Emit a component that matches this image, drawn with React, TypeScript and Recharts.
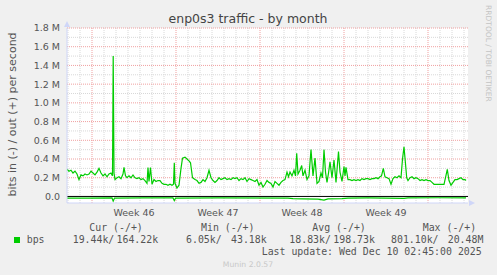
import { LineChart, Line, XAxis, YAxis, CartesianGrid, ReferenceLine, ReferenceDot } from "recharts";

// hours since the first day line, Mbit/s (out = +, in = -)
const outTraffic: [number, number][] = [
  [-2, 0.29], [2, 0.27], [6, 0.28], [10, 0.25], [14, 0.27], [18, 0.24], [22, 0.18], [26, 0.23],
  [30, 0.22], [34, 0.24], [38, 0.23], [42, 0.24], [46, 0.27], [50, 0.25], [54, 0.23], [58, 0.26],
  [62, 0.3], [66, 0.25], [70, 0.22], [74, 0.24], [78, 0.21], [82, 0.24], [86, 0.25], [89, 0.22],
  [90.4, 1.5], [92, 0.25], [94, 0.18], [98, 0.2], [102, 0.21], [106, 0.19], [110, 0.24], [112, 0.31],
  [115, 0.22], [118, 0.2], [122, 0.22], [126, 0.2], [130, 0.23], [134, 0.2], [138, 0.19], [142, 0.2],
  [146, 0.18], [150, 0.19], [154, 0.17], [158, 0.14], [160, 0.31], [162, 0.16], [165, 0.31], [168, 0.13],
  [172, 0.18], [176, 0.16], [180, 0.17], [184, 0.17], [188, 0.14], [192, 0.13], [196, 0.13], [200, 0.12],
  [204, 0.13], [208, 0.12], [211, 0.13], [212.6, 0.36], [214, 0.14], [218, 0.09], [222, 0.12], [226, 0.3],
  [229, 0.41], [234, 0.42], [238, 0.4], [242, 0.38], [245, 0.36], [249, 0.2], [254, 0.18], [258, 0.17],
  [262, 0.14], [266, 0.15], [270, 0.18], [274, 0.16], [278, 0.2], [282, 0.28], [286, 0.2], [290, 0.17],
  [294, 0.15], [298, 0.17], [302, 0.2], [306, 0.18], [310, 0.19], [314, 0.2], [318, 0.18], [322, 0.19],
  [326, 0.18], [330, 0.2], [334, 0.19], [338, 0.2], [342, 0.17], [346, 0.19], [350, 0.18], [354, 0.2],
  [358, 0.16], [362, 0.19], [366, 0.18], [370, 0.17], [374, 0.16], [378, 0.18], [382, 0.12], [386, 0.15],
  [390, 0.1], [394, 0.13], [398, 0.17], [402, 0.15], [406, 0.14], [410, 0.1], [414, 0.16], [418, 0.14],
  [422, 0.12], [426, 0.15], [430, 0.17], [434, 0.18], [438, 0.26], [441, 0.21], [444, 0.26], [448, 0.22],
  [452, 0.28], [455, 0.22], [457.4, 0.46], [460, 0.24], [464, 0.28], [467.4, 0.33], [470, 0.22], [474, 0.28],
  [478, 0.18], [482, 0.22], [486, 0.5], [490, 0.22], [494, 0.41], [498, 0.14], [502, 0.16], [506, 0.25],
  [509, 0.2], [512, 0.5], [515, 0.26], [518, 0.15], [521, 0.25], [524, 0.37], [528, 0.2], [532, 0.39],
  [536, 0.15], [541, 0.48], [544, 0.26], [548, 0.16], [552, 0.32], [554, 0.22], [556, 0.31], [560, 0.18],
  [564, 0.18], [568, 0.17], [572, 0.18], [576, 0.17], [580, 0.18], [584, 0.17], [588, 0.19], [592, 0.18],
  [596, 0.19], [600, 0.19], [604, 0.18], [608, 0.19], [612, 0.19], [616, 0.2], [620, 0.19], [624, 0.21],
  [627, 0.22], [630.6, 0.3], [634, 0.21], [638, 0.2], [642, 0.19], [646, 0.13], [650, 0.19], [654, 0.21],
  [658, 0.2], [662, 0.22], [666, 0.2], [669, 0.4], [672, 0.53], [675, 0.35], [677.4, 0.2], [680, 0.17],
  [684, 0.2], [688, 0.21], [692, 0.19], [696, 0.2], [700, 0.19], [704, 0.17], [708, 0.18], [712, 0.17],
  [716, 0.18], [720, 0.17], [724, 0.17], [728, 0.15], [732, 0.13], [736, 0.13], [740, 0.13], [744, 0.13],
  [748, 0.13], [752, 0.13], [755, 0.2], [758.6, 0.29], [762, 0.17], [766, 0.12], [770, 0.15], [774, 0.18],
  [778, 0.18], [782, 0.19], [786, 0.2], [790, 0.18], [794, 0.18], [796, 0.17],
];

const inTraffic: [number, number][] = [
  [-2, -0.018], [40, -0.017], [88, -0.016], [90.4, -0.05], [93, -0.017], [150, -0.016], [210, -0.016],
  [212.6, -0.045], [215, -0.018], [300, -0.016], [440, -0.018], [450, -0.024], [470, -0.026],
  [500, -0.028], [512, -0.04], [520, -0.026], [548, -0.024], [560, -0.018], [600, -0.016],
  [672, -0.02], [680, -0.016], [740, -0.014], [796, -0.016],
];

const yTicks = [0, 0.2, 0.4, 0.6, 0.8, 1.0, 1.2, 1.4, 1.6, 1.8];
const yMinor = [0.1, 0.3, 0.5, 0.7, 0.9, 1.1, 1.3, 1.5, 1.7];
const weekStarts = [48, 216, 384, 552, 720];
const weekMids = [132, 300, 468, 636];
const weekLabels = ["Week 46", "Week 47", "Week 48", "Week 49"];
const dayLines = Array.from({ length: 34 }, (_, i) => i * 24).filter((h) => !weekStarts.includes(h));

const statHeaders = ["Cur (-/+)", "Min (-/+)", "Avg (-/+)", "Max (-/+)"];
const statIn = ["19.44k/", "6.05k/", "18.83k/", "801.10k/"];
const statOut = ["164.22k", "43.18k", "198.73k", "20.48M"];

const outData = outTraffic.map(([t, v]) => ({ t, v }));
const inData = inTraffic.map(([t, v]) => ({ t, v }));

const FONT = "'DejaVu Sans', sans-serif";
const MONO = "'DejaVu Sans Mono', monospace";
const TXT = "#555";
const AXIS = "#CFD6F8";
const GREEN = "#00CC00";
const MINOR = "#D8D8D8";
const MAJOR = "#F0A0A0";

const fmtY = (v: number) => (v === 0 ? "0.0" : `${v.toFixed(1)} M`);

export default function App() {
  const headX = [89.3, 201, 312.3, 422.7];
  const inX = [72.7, 186, 289.3, 391];
  const outX = [116.5, 231, 333.3, 447.7];

  return (
    <div style={{ position: "absolute", left: 0, top: 0, width: 497, height: 275, background: "#F0F0F0" }}>
      <LineChart width={497} height={275} margin={{ top: 28, right: 29, left: 0, bottom: 52 }}>
        <CartesianGrid fill="#FFFFFF" horizontal={false} vertical={false} />
        <XAxis
          dataKey="t"
          type="number"
          domain={[-2, 800]}
          allowDataOverflow
          ticks={weekMids}
          interval={0}
          tickFormatter={(v: number) => weekLabels[weekMids.indexOf(v)]}
          tickLine={false}
          tickSize={0}
          tickMargin={6}
          height={20}
          axisLine={{ stroke: AXIS }}
          tick={{ fontSize: 9.5, fill: TXT, fontFamily: FONT }}
        />
        <YAxis
          type="number"
          domain={[-0.07, 1.8]}
          allowDataOverflow
          ticks={yTicks}
          interval={0}
          tickFormatter={fmtY}
          tickLine={false}
          tickSize={0}
          tickMargin={7}
          width={67}
          axisLine={{ stroke: AXIS }}
          tick={{ fontSize: 9.5, fill: TXT, fontFamily: FONT }}
        />
        {yMinor.map((v) => (
          <ReferenceLine key={"ym" + v} y={v} stroke={MINOR} strokeDasharray="1 1" />
        ))}
        {dayLines.map((h) => (
          <ReferenceLine key={"xm" + h} x={h} stroke={MINOR} strokeDasharray="1 1" />
        ))}
        {yTicks.slice(1).map((v) => (
          <ReferenceLine key={"yM" + v} y={v} stroke={MAJOR} strokeDasharray="1 1" />
        ))}
        {weekStarts.map((h) => (
          <ReferenceLine key={"xM" + h} x={h} stroke={MAJOR} strokeDasharray="1 1" />
        ))}
        <Line data={inData} dataKey="v" type="linear" stroke={GREEN} strokeWidth={1.2} dot={false} isAnimationActive={false} />
        <Line data={outData} dataKey="v" type="linear" stroke={GREEN} strokeWidth={1.2} dot={false} isAnimationActive={false} />
        <ReferenceLine y={0} stroke="#000" strokeWidth={1} />
        <ReferenceDot
          x={-2}
          y={1.8}
          r={0}
          shape={(p: any) => <path d={`M${p.cx - 3},${p.cy - 1} L${p.cx},${p.cy - 7} L${p.cx + 3},${p.cy - 1} Z`} fill={AXIS} />}
        />
        <ReferenceDot
          x={800}
          y={-0.07}
          r={0}
          shape={(p: any) => <path d={`M${p.cx + 1},${p.cy - 3} L${p.cx + 7},${p.cy} L${p.cx + 1},${p.cy + 3} Z`} fill={AXIS} />}
        />
      </LineChart>

      <svg width={497} height={275} style={{ position: "absolute", left: 0, top: 0, pointerEvents: "none" }}>
        <text x={248} y={23} textAnchor="middle" fontFamily={FONT} fontSize={12.5} fill="#444">
          enp0s3 traffic - by month
        </text>
        <text x={16} y={114.5} transform="rotate(-90 16 114.5)" textAnchor="middle" fontFamily={FONT} fontSize={11} fill={TXT}>
          bits in (-) / out (+) per second
        </text>
        <text x={485.5} y={53.4} transform="rotate(90 485.5 53.4)" textAnchor="middle" fontFamily={FONT} fontSize={7.5} fill="#C4C4C4">
          RRDTOOL / TOBI OETIKER
        </text>

        <g fontFamily={MONO} fontSize={9.9} fill={TXT}>
          {statHeaders.map((h, i) => (
            <text key={h} x={headX[i]} y={231}>{h}</text>
          ))}
          <rect x={14} y={237} width={6} height={6} fill={GREEN} />
          <text x={26.7} y={243}>bps</text>
          {statIn.map((s, i) => (
            <text key={"i" + i} x={inX[i]} y={243}>{s}</text>
          ))}
          {statOut.map((s, i) => (
            <text key={"o" + i} x={outX[i]} y={243}>{s}</text>
          ))}
          <text x={261.7} y={255}>Last update: Wed Dec 10 02:45:00 2025</text>
        </g>
        <text x={248} y={266.5} textAnchor="middle" fontFamily={FONT} fontSize={7.7} fill="#C8C8C8">
          Munin 2.0.57
        </text>
      </svg>
    </div>
  );
}
